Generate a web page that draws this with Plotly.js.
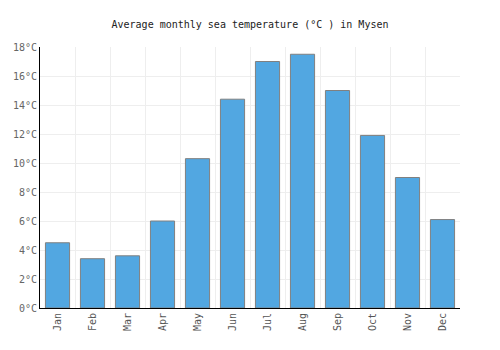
<!DOCTYPE html>
<html><head><meta charset="utf-8">
<script src="https://cdn.plot.ly/plotly-3.0.1.min.js"></script>
<style>html,body{margin:0;padding:0;background:#fff}</style>
</head><body>
<div id="chart" style="width:500px;height:350px"></div>
<script>
const months = ["Jan","Feb","Mar","Apr","May","Jun","Jul","Aug","Sep","Oct","Nov","Dec"];
const seaTemp = [4.5, 3.4, 3.6, 6.0, 10.3, 14.4, 17.0, 17.5, 15.0, 11.9, 9.0, 6.1];
const yTicks = [0,2,4,6,8,10,12,14,16,18];
const yTickLabels = yTicks.map(v => v + '°C');

Plotly.newPlot('chart', [{
  type: 'bar',
  x: months,
  y: seaTemp,
  marker: {color: '#52a7e1', line: {color: '#808080', width: 1}},
  hoverinfo: 'x+y'
}], {
  width: 500, height: 350,
  margin: {l: 40, r: 40, t: 47, b: 42},
  paper_bgcolor: '#fff', plot_bgcolor: '#fff',
  bargap: 0.31,
  showlegend: false,
  font: {family: 'DejaVu Sans Mono, monospace', size: 10, color: '#666'},
  title: {text: 'Average monthly sea temperature (°C ) in Mysen', x: 0.5, xanchor: 'center', y: 0.93, yanchor: 'middle',
          font: {family: 'DejaVu Sans Mono, monospace', size: 10, color: '#222'}},
  xaxis: {type: 'category', tickson: 'boundaries', showgrid: true, gridcolor: '#eeeeee', gridwidth: 1,
          tickangle: -90, showline: true, linecolor: '#000', linewidth: 1, ticks: '', zeroline: false,
          tickfont: {size: 10, color: '#555'}},
  yaxis: {range: [0, 18], tickmode: 'array', tickvals: yTicks, ticktext: yTickLabels, showgrid: true, gridcolor: '#eeeeee',
          showline: true, linecolor: '#000', linewidth: 1, ticks: '', zeroline: false,
          tickfont: {size: 10, color: '#666'}}
}, {displayModeBar: false});
</script>
</body></html>
